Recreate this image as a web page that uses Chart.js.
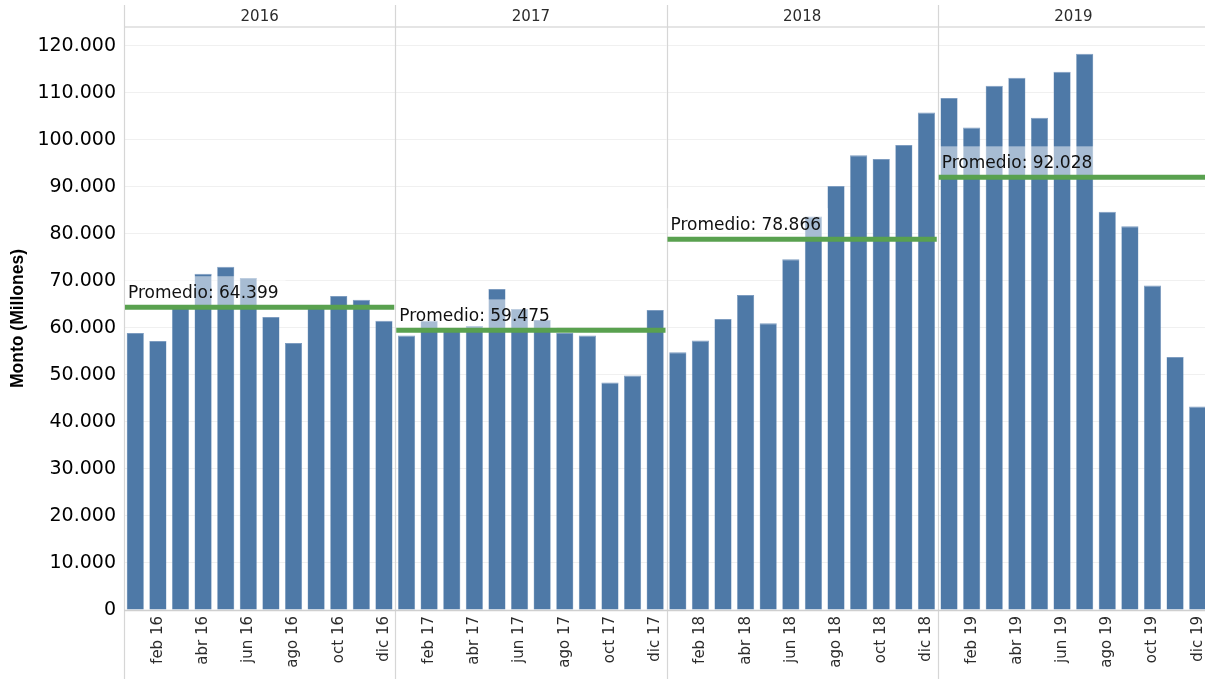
<!DOCTYPE html>
<html>
<head>
<meta charset="utf-8">
<script src="https://cdn.jsdelivr.net/npm/chart.js@4"></script>
<style>
  html, body { margin: 0; padding: 0; background: #fff; overflow: hidden; }
  #frame { width: 1205px; height: 679px; overflow: hidden; }
  #wrap { width: 1209px; height: 679px; position: relative; }
</style>
</head>
<body>
<div id="frame"><div id="wrap"><canvas id="chart"></canvas></div></div>
<script>
const years = ['2016', '2017', '2018', '2019'];
const months = ['ene', 'feb', 'mar', 'abr', 'may', 'jun', 'jul', 'ago', 'sep', 'oct', 'nov', 'dic'];

// monto mensual (millones)
const monto2016 = [58900, 57200, 64500, 71500, 73000, 70600, 62300, 56800, 64500, 66800, 66000, 61500];
const monto2017 = [58400, 61500, 59600, 60400, 68300, 64000, 61700, 58900, 58400, 48400, 49900, 63800];
const monto2018 = [54800, 57300, 61900, 67000, 61000, 74600, 83700, 90200, 96700, 95900, 98900, 105800];
const monto2019 = [108900, 102600, 111500, 113200, 104700, 114500, 118300, 84700, 81600, 69000, 53800, 43300];

// promedio anual mostrado en las etiquetas
const promedios = [64399, 59475, 78866, 92028];

// marcas del eje y
const yTicks = [0, 10000, 20000, 30000, 40000, 50000, 60000, 70000, 80000, 90000, 100000, 110000, 120000];

const labels = [];
years.forEach(y => months.forEach(m => labels.push(m + ' ' + y.slice(2))));
const montos = [].concat(monto2016, monto2017, monto2018, monto2019);

function fmt(v) {
  return String(v).replace(/\B(?=(\d{3})+(?!\d))/g, '.');
}

Chart.defaults.font.family = 'DejaVu Sans';

// paneles por año, lineas de promedio y encabezado
const panelsPlugin = {
  id: 'panels',
  panelEdges(chart) {
    const x = chart.scales.x;
    const area = chart.chartArea;
    const edges = [area.left];
    for (let i = 1; i < years.length; i++) {
      const k = i * 12;
      edges.push((x.getPixelForValue(k - 1) + x.getPixelForValue(k)) / 2);
    }
    edges.push(area.right);
    return edges;
  },
  beforeDatasetsDraw(chart) {
    const ctx = chart.ctx;
    const area = chart.chartArea;
    const edges = this.panelEdges(chart);
    ctx.save();
    // linea bajo el encabezado
    ctx.strokeStyle = '#dcdcdc';
    ctx.lineWidth = 1.5;
    ctx.beginPath();
    ctx.moveTo(area.left, area.top);
    ctx.lineTo(area.right, area.top);
    ctx.stroke();
    // separadores verticales
    ctx.strokeStyle = '#d6d6d6';
    ctx.lineWidth = 1.2;
    for (let i = 0; i < years.length; i++) {
      const xe = Math.round(edges[i]) + 0.5;
      ctx.beginPath();
      ctx.moveTo(xe, 5);
      ctx.lineTo(xe, chart.height);
      ctx.stroke();
    }
    // eje x
    ctx.strokeStyle = '#cfcfcf';
    ctx.lineWidth = 1.5;
    ctx.beginPath();
    ctx.moveTo(area.left, area.bottom + 0.5);
    ctx.lineTo(area.right, area.bottom + 0.5);
    ctx.stroke();
    // años
    ctx.fillStyle = '#2b2b2b';
    ctx.font = '15px "DejaVu Sans"';
    ctx.textAlign = 'center';
    ctx.textBaseline = 'middle';
    years.forEach((y, i) => ctx.fillText(y, (edges[i] + edges[i + 1]) / 2, 17));
    ctx.restore();
  },
  afterDatasetsDraw(chart) {
    const ctx = chart.ctx;
    const yScale = chart.scales.y;
    const edges = this.panelEdges(chart);
    ctx.save();
    ctx.font = '17px "DejaVu Sans"';
    promedios.forEach((p, i) => {
      const y = yScale.getPixelForValue(p);
      const x0 = edges[i] + 1;
      const x1 = edges[i + 1] - 1;
      const text = 'Promedio: ' + fmt(p);
      const w = ctx.measureText(text).width;
      // caja semitransparente de la etiqueta
      ctx.fillStyle = 'rgba(255,255,255,0.5)';
      ctx.fillRect(x0, y - 31, w + 10, 29);
      // linea de promedio
      ctx.strokeStyle = '#59a14f';
      ctx.lineWidth = 5;
      ctx.beginPath();
      ctx.moveTo(x0, y);
      ctx.lineTo(x1, y);
      ctx.stroke();
      ctx.fillStyle = '#111';
      ctx.textAlign = 'left';
      ctx.textBaseline = 'alphabetic';
      ctx.fillText(text, x0 + 3, y - 9);
    });
    ctx.restore();
  }
};

new Chart(document.getElementById('chart'), {
  type: 'bar',
  data: {
    labels: labels,
    datasets: [{
      label: 'Monto',
      data: montos,
      backgroundColor: '#4e79a7',
      borderColor: '#7d9cc0',
      borderWidth: { top: 1, left: 0.5, right: 0.5, bottom: 0 },
      barPercentage: 0.76,
      categoryPercentage: 1.0
    }]
  },
  options: {
    responsive: true,
    maintainAspectRatio: false,
    animation: false,
    layout: { padding: { top: 27, left: 0, right: 0, bottom: 0 } },
    plugins: {
      legend: { display: false },
      tooltip: { enabled: false }
    },
    scales: {
      x: {
        offset: true,
        grid: { display: false, drawTicks: false },
        border: { display: false },
        ticks: {
          autoSkip: false,
          maxRotation: 90,
          minRotation: 90,
          padding: 6,
          color: '#2b2b2b',
          font: { size: 15 },
          callback: function (val, i) {
            return i % 2 === 1 ? labels[i] : '';
          }
        },
        afterFit: function (scale) {
          scale.height = 69;
          scale.paddingLeft = 0;
          scale.paddingRight = 0;
        }
      },
      y: {
        min: 0,
        max: 124000,
        grid: { color: '#f0f0f0', drawTicks: false },
        border: { display: false },
        ticks: {
          autoSkip: false,
          padding: 8,
          color: '#000',
          font: { size: 19 },
          callback: function (v) { return fmt(v); }
        },
        afterBuildTicks: function (scale) {
          scale.ticks = yTicks.map(v => ({ value: v }));
        },
        title: {
          display: true,
          text: 'Monto (Millones)',
          color: '#000',
          font: { family: 'Liberation Sans', size: 17.5, weight: 'bold' },
          padding: { top: 8, bottom: 0 }
        },
        afterFit: function (scale) {
          scale.width = 124;
          scale.paddingTop = 0;
          scale.paddingBottom = 0;
        }
      }
    }
  },
  plugins: [panelsPlugin]
});
</script>
</body>
</html>
